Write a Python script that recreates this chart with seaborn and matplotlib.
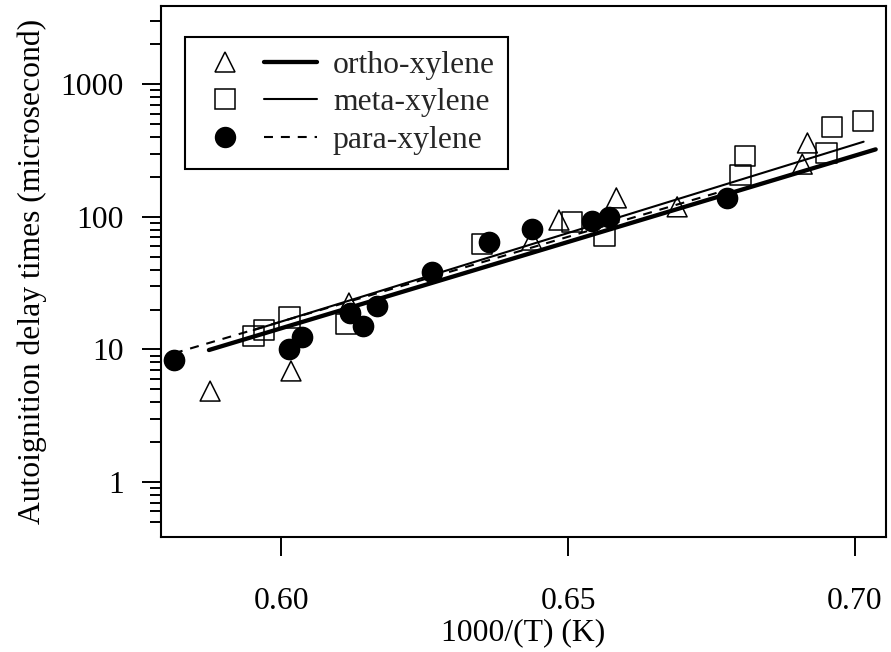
import numpy as np
import pandas as pd
import matplotlib
matplotlib.use("Agg")
import matplotlib.pyplot as plt
import seaborn as sns
from matplotlib.lines import Line2D
from matplotlib.legend_handler import HandlerTuple
from matplotlib.ticker import FixedLocator, FixedFormatter, NullFormatter

# ---------------- data ----------------
ortho_x = [0.5876, 0.6017, 0.6118, 0.6437, 0.6484, 0.6584, 0.6690, 0.6908, 0.6917]
ortho_y = [4.85, 6.88, 22.4, 66.8, 94.6, 139, 119, 250, 361]

meta_x = [0.5952, 0.5970, 0.6014, 0.6113, 0.6350, 0.6507, 0.6563, 0.6800, 0.6808, 0.6950, 0.6960, 0.7014]
meta_y = [12.6, 14.0, 17.5, 15.6, 62.4, 91.4, 71.6, 207, 288, 303, 476, 528]

para_x = [0.5813, 0.6014, 0.6036, 0.6120, 0.6142, 0.6167, 0.6263, 0.6362, 0.6437, 0.6542, 0.6571, 0.6777]
para_y = [8.32, 10.07, 12.4, 18.8, 15.0, 21.2, 38.4, 64.6, 80.9, 93.1, 99.8, 139]

# fitted lines (end points)
ortho_fit_x = [0.5874, 0.7036]
ortho_fit_y = [9.9, 323]
meta_fit_x = [0.5952, 0.7015]
meta_fit_y = [14.0, 369]
para_fit_x = [0.5813, 0.6777]
para_fit_y = [9.35, 160]

series_names = ["ortho-xylene", "meta-xylene", "para-xylene"]
x_ticks = [0.60, 0.65, 0.70]
x_tick_labels = ["0.60", "0.65", "0.70"]
y_ticks = [1, 10, 100, 1000]
y_tick_labels = ["1", "10", "100", "1000"]
y_minor = [0.5, 0.6, 0.7, 0.8, 0.9,
           2, 3, 4, 5, 6, 7, 8, 9,
           20, 30, 40, 50, 60, 70, 80, 90,
           200, 300, 400, 500, 600, 700, 800, 900,
           2000, 3000]

# ---------------- style ----------------
sns.set_theme(style="ticks")
plt.rcParams["font.family"] = ["Liberation Serif", "DejaVu Serif"]
FS = 22.8

fig = plt.figure(figsize=(8.91, 6.52), dpi=100)
ax = fig.add_axes([0.1804, 0.1768, 0.8140, 0.8140])

df_o = pd.DataFrame({"x": ortho_x, "y": ortho_y})
df_m = pd.DataFrame({"x": meta_x, "y": meta_y})
df_p = pd.DataFrame({"x": para_x, "y": para_y})

mew = 1.1
sns.scatterplot(data=df_o, x="x", y="y", ax=ax, marker="^", s=205,
                facecolor="none", edgecolor="black", linewidth=mew, zorder=3)
sns.scatterplot(data=df_m, x="x", y="y", ax=ax, marker="s", s=220,
                facecolor="none", edgecolor="black", linewidth=mew, zorder=3)
sns.scatterplot(data=df_p, x="x", y="y", ax=ax, marker="o", s=210,
                color="black", edgecolor="black", linewidth=mew, zorder=3)

dash_pat = (4.3, 3.8)
sns.lineplot(x=ortho_fit_x, y=ortho_fit_y, ax=ax, color="black", lw=3.1,
             estimator=None, solid_capstyle="round", zorder=4)
sns.lineplot(x=meta_fit_x, y=meta_fit_y, ax=ax, color="black", lw=1.5,
             estimator=None, solid_capstyle="round", zorder=4)
sns.lineplot(x=para_fit_x, y=para_fit_y, ax=ax, color="black", lw=1.5,
             estimator=None, linestyle=(0, dash_pat), zorder=4)

ax.set_yscale("log")
ax.set_xlim(0.5790, 0.7054)
ax.set_ylim(0.3867, 3896)

ax.xaxis.set_major_locator(FixedLocator(x_ticks))
ax.xaxis.set_major_formatter(FixedFormatter(x_tick_labels))
ax.xaxis.set_minor_locator(FixedLocator([]))
ax.yaxis.set_major_locator(FixedLocator(y_ticks))
ax.yaxis.set_major_formatter(FixedFormatter(y_tick_labels))
ax.yaxis.set_minor_locator(FixedLocator(y_minor))
ax.yaxis.set_minor_formatter(NullFormatter())

for sp in ax.spines.values():
    sp.set_visible(True)
    sp.set_linewidth(1.5)
    sp.set_color("black")

ax.tick_params(axis="both", which="major", direction="out", length=13.5,
               width=1.4, color="black", labelsize=FS, labelcolor="black")
ax.tick_params(axis="y", which="minor", direction="out", length=7.7,
               width=1.4, color="black")
ax.tick_params(axis="x", which="major", pad=23)
ax.tick_params(axis="y", which="major", pad=13)

ax.set_xlabel("1000/(T) (K)", fontsize=FS, color="black", labelpad=1.5)
ax.set_ylabel("Autoignition delay times (microsecond)", fontsize=FS,
              color="black", labelpad=9.5)
ax.grid(False)
ax.set_facecolor("white")

# legend
h_o = (Line2D([], [], marker="^", ls="none", ms=14.3, mfc="none", mec="black", mew=mew),
       Line2D([], [], color="black", lw=3.1, solid_capstyle="round"))
h_m = (Line2D([], [], marker="s", ls="none", ms=14.3, mfc="none", mec="black", mew=mew),
       Line2D([], [], color="black", lw=1.5))
h_p = (Line2D([], [], marker="o", ls="none", ms=14.3, mfc="black", mec="black", mew=mew),
       Line2D([], [], color="black", lw=1.5, linestyle=(0, dash_pat)))
leg = ax.legend([h_o, h_m, h_p], series_names,
                handler_map={tuple: HandlerTuple(ndivide=2, pad=0.39)},
                loc="upper left", bbox_to_anchor=(185 / 891, 1 - 37.3 / 652),
                bbox_transform=fig.transFigure, borderaxespad=0,
                fontsize=FS, handlelength=3.75, handletextpad=0.5,
                borderpad=0.42, labelspacing=0.27, frameon=True,
                fancybox=False, framealpha=1, edgecolor="black")
leg.get_frame().set_linewidth(1.5)

fig.savefig("out.png", dpi=100, facecolor="white")
